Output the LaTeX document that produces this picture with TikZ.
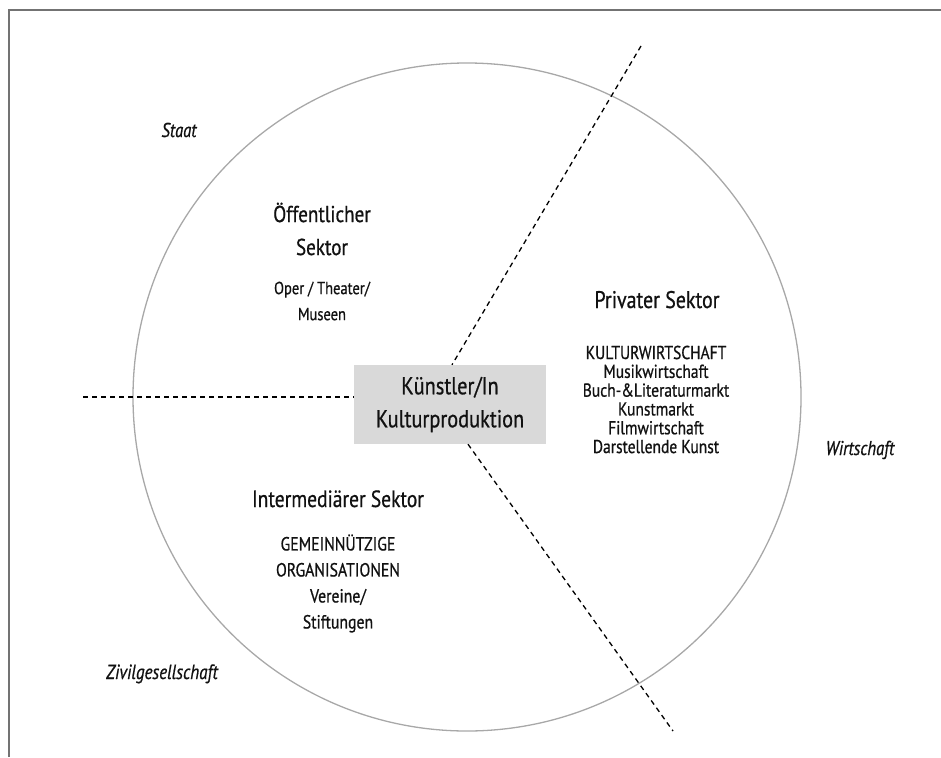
\documentclass[tikz,border=0pt]{standalone}
\usepackage{fontspec}
\setmainfont{PT Sans}[FakeStretch=0.83,FakeBold=0.7]
\definecolor{framegray}{HTML}{737373}
\definecolor{ringgray}{HTML}{A8A8A8}
\definecolor{boxgray}{HTML}{D9D9D9}
\definecolor{ink}{HTML}{111111}
\begin{document}
\begin{tikzpicture}[x=1pt,y=-1pt,
  frameline/.style={draw=framegray, line width=1.5pt},
  ring/.style={circle, draw=ringgray, line width=1.3pt, minimum size=668pt, inner sep=0pt},
  divider/.style={draw=black, line width=1.3pt, dash pattern=on 5pt off 4pt},
  corebox/.style={fill=boxgray, minimum width=192pt, minimum height=79pt, align=center, inner sep=0pt, text=ink, font=\fontsize{24.5}{33}\selectfont},
  heading/.style={align=center, inner sep=0pt, text=ink, font=\fontsize{23.5}{33}\selectfont},
  listtext/.style={align=center, inner sep=0pt, text=ink},
  realm/.style={inner sep=0pt, text=ink, font=\fontsize{20}{24}\selectfont\itshape}
]
\useasboundingbox (0,0) rectangle (941,757);
% frame (top and left edges)
\draw[frameline] (9,757) -- (9,10) -- (941,10);
% circle
\node[ring] (ring) at (467,397) {};
% central box
\node[corebox] (kp) at (450,404.5) {Künstler/In\\Kulturproduktion};
% dividers
\coordinate (hl) at (83,397);
\coordinate (ut) at (641,46);
\coordinate (lb) at (673,731);
\draw[divider] (hl) -- (hl -| kp.west);
\draw[divider] (ut) -- ([xshift=2pt]kp.north);
\draw[divider] ([xshift=18pt]kp.south) -- (lb);
% public sector
\node[heading, font=\fontsize{23}{33}\selectfont] (pubh) at (322,229) {Öffentlicher\\Sektor};
\node[listtext, font=\fontsize{17.5}{26}\selectfont] (publ) at (322,301) {Oper / Theater/\\Museen};
% private sector
\node[heading, font=\fontsize{24}{33}\selectfont, anchor=base] (privh) at (657,308) {Privater Sektor};
\node[listtext, font=\fontsize{18.7}{18.8}\selectfont] (privl) at (656,399.5) {KULTURWIRTSCHAFT\\Musikwirtschaft\\Buch-\&Literaturmarkt\\Kunstmarkt\\Filmwirtschaft\\Darstellende Kunst};
% intermediate sector
\node[heading, anchor=base] (inth) at (338,507) {Intermediärer Sektor};
\node[listtext, font=\fontsize{19}{26}\selectfont] (intl) at (338,583.5) {GEMEINNÜTZIGE\\ORGANISATIONEN\\Vereine/\\Stiftungen};
% realms
\node[realm, anchor=base] (staat) at (179,137) {Staat};
\node[realm, anchor=base] (wirt) at (860,455) {Wirtschaft};
\node[realm, font=\fontsize{20.5}{24}\selectfont\itshape, anchor=base] (zivil) at (162,679) {Zivilgesellschaft};
\end{tikzpicture}
\end{document}
